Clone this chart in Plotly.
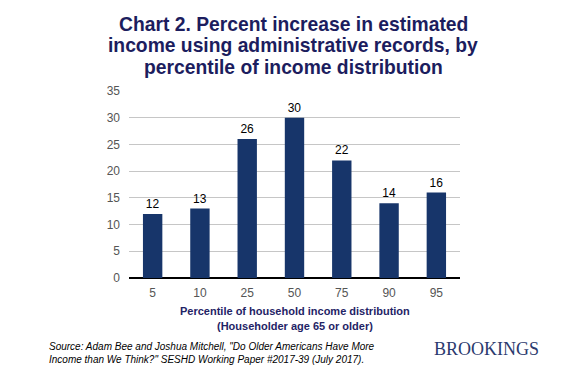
import plotly.graph_objects as go

categories = ["5", "10", "25", "50", "75", "90", "95"]
values = [12, 13, 26, 30, 22, 14, 16]
y_ticks = [0, 5, 10, 15, 20, 25, 30, 35]

OFF = 8  # default page body margin of the HTML page
W, H = 575 - OFF, 372 - OFF
L, R, T, B = 129 - OFF, 460 - OFF, 91 - OFF, 278 - OFF  # plot area in pixels


def px(x):
    return (x - OFF - L) / (R - L)


def py(y):
    return (B - (y - OFF)) / (B - T)


fig = go.Figure(
    go.Bar(
        x=categories,
        y=values,
        marker=dict(color="#17356a", line=dict(width=0)),
        width=0.41,
        text=[str(v) for v in values],
        textposition="outside",
        textfont=dict(family="Liberation Sans, Arial", size=12, color="#000000"),
        cliponaxis=False,
    )
)

title_lines = [
    "Chart 2. Percent increase in estimated",
    "income using administrative records, by",
    "percentile of income distribution",
]
title_y = [24.5, 46, 67.5]
annotations = []
for t, y in zip(title_lines, title_y):
    annotations.append(dict(
        text=f"<b>{t}</b>", x=px(293), y=py(y), xref="paper", yref="paper",
        xanchor="center", yanchor="middle", showarrow=False,
        font=dict(family="Liberation Sans, Arial", size=19.3, color="#1c1d5e"),
    ))

annotations.append(dict(
    text="<b>Percentile of household income distribution</b>",
    x=px(295), y=py(311), xref="paper", yref="paper",
    xanchor="center", yanchor="middle", showarrow=False,
    font=dict(family="Liberation Sans, Arial", size=11, color="#1f2466"),
))
annotations.append(dict(
    text="<b>(Householder age 65 or older)</b>",
    x=px(295), y=py(326), xref="paper", yref="paper",
    xanchor="center", yanchor="middle", showarrow=False,
    font=dict(family="Liberation Sans, Arial", size=11, color="#1f2466"),
))
annotations.append(dict(
    text='<i>Source: Adam Bee and Joshua Mitchell, "Do Older Americans Have More</i>',
    x=px(47), y=py(346), xref="paper", yref="paper",
    xanchor="left", yanchor="middle", showarrow=False,
    font=dict(family="Liberation Sans, Arial", size=10, color="#000000"),
))
annotations.append(dict(
    text='<i>Income than We Think?" SESHD Working Paper #2017-39 (July 2017).</i>',
    x=px(47), y=py(359), xref="paper", yref="paper",
    xanchor="left", yanchor="middle", showarrow=False,
    font=dict(family="Liberation Sans, Arial", size=10, color="#000000"),
))
annotations.append(dict(
    text="BROOKINGS",
    x=px(486), y=py(349), xref="paper", yref="paper",
    xanchor="center", yanchor="middle", showarrow=False,
    font=dict(family="Liberation Serif, Times New Roman", size=18, color="#2b3a6e"),
))

fig.update_layout(
    width=W, height=H, autosize=False,
    margin=dict(l=L, r=W - R, t=T, b=H - B, pad=0),
    paper_bgcolor="white", plot_bgcolor="white",
    showlegend=False,
    bargap=0.59,
    annotations=annotations,
    xaxis=dict(
        type="category", showgrid=False, showline=False, zeroline=False,
        ticks="", ticklabelstandoff=6,
        tickfont=dict(family="Liberation Sans, Arial", size=12, color="#555555"),
    ),
    yaxis=dict(
        range=[0, 35], tickvals=y_ticks, showgrid=True, gridcolor="#c6c6c6",
        gridwidth=1, zeroline=True, zerolinecolor="#000000", zerolinewidth=1.5,
        showline=False, ticks="", ticklabelstandoff=8,
        tickfont=dict(family="Liberation Sans, Arial", size=12, color="#555555"),
    ),
)

fig.write_html("out.html")
